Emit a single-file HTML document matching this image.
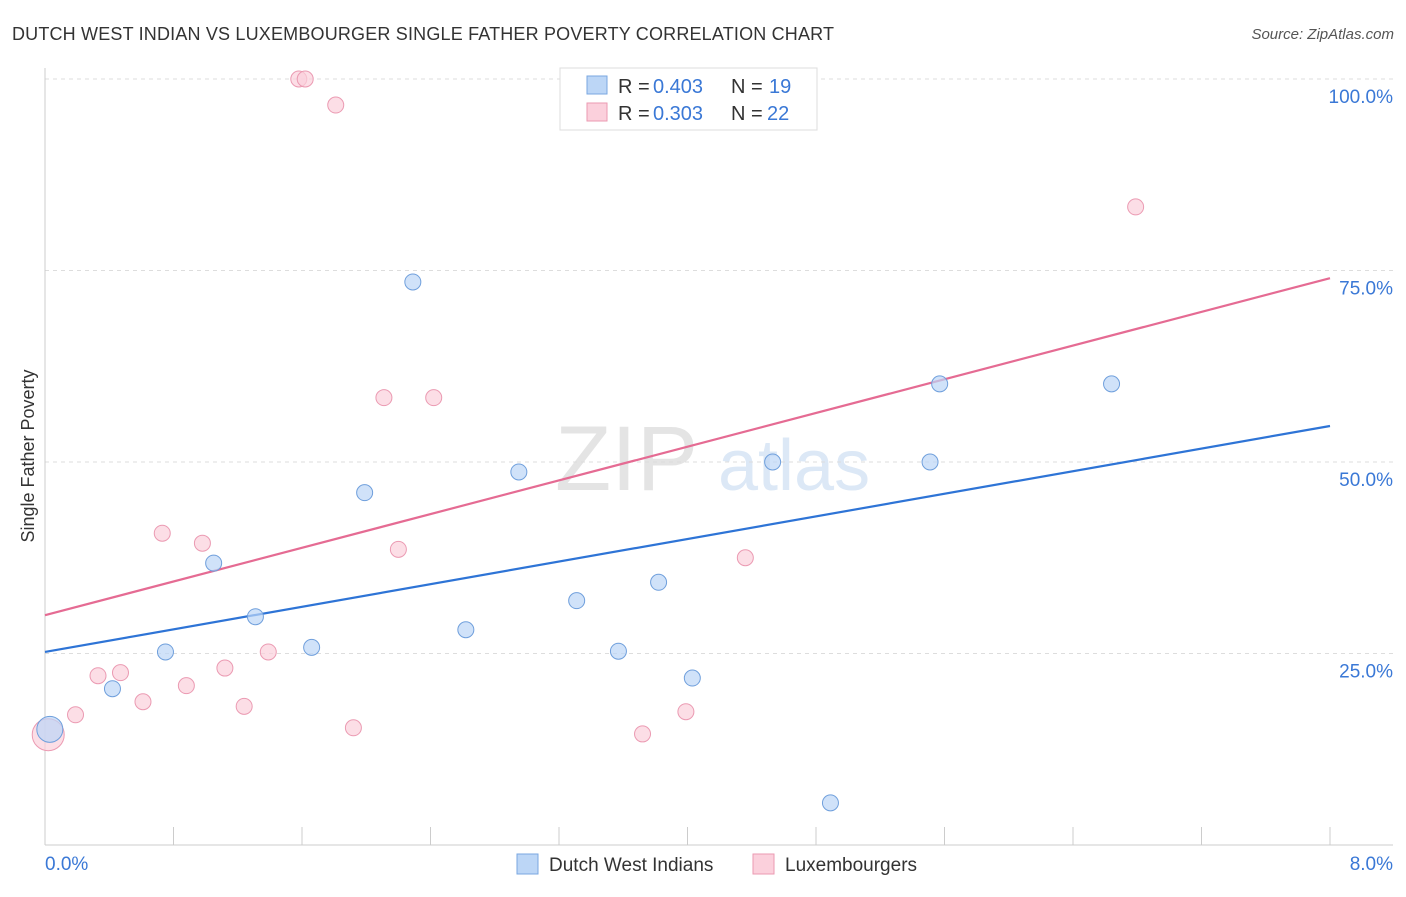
<!DOCTYPE html>
<html><head><meta charset="utf-8"><style>
body{margin:0;background:#fff;font-family:"Liberation Sans",sans-serif;}
svg text{font-family:"Liberation Sans",sans-serif;}
</style></head><body>
<svg id="chart" width="1406" height="892" xmlns="http://www.w3.org/2000/svg">
<text x="12" y="40" font-size="18" fill="#333" textLength="822">DUTCH WEST INDIAN VS LUXEMBOURGER SINGLE FATHER POVERTY CORRELATION CHART</text>
<text x="1394" y="39" font-size="15" fill="#555" font-style="italic" text-anchor="end">Source: ZipAtlas.com</text>
<text x="555" y="490" font-size="92" fill="#e4e4e4" font-family="Liberation Serif">ZIP</text>
<text x="718" y="490" font-size="72" fill="#dce8f6">atlas</text>
<g id="grid"></g>
<g id="axes"></g>
<g id="lines"></g>
<g id="points"></g>
<text transform="translate(34,456) rotate(-90)" font-size="18" fill="#333" text-anchor="middle">Single Father Poverty</text>
<g>
<rect x="560" y="68" width="257" height="62" fill="#fff" stroke="#ddd"/>
<rect x="587" y="76" width="20" height="18" fill="#bcd6f6" stroke="#7aa7e0"/>
<text x="618" y="93" font-size="20" fill="#333">R =</text>
<text x="653" y="93" font-size="20" fill="#3a78d6">0.403</text>
<text x="731" y="93" font-size="20" fill="#333">N =</text>
<text x="769" y="93" font-size="20" fill="#3a78d6">19</text>
<rect x="587" y="103" width="20" height="18" fill="#fbd0dc" stroke="#eb9ab2"/>
<text x="618" y="120" font-size="20" fill="#333">R =</text>
<text x="653" y="120" font-size="20" fill="#3a78d6">0.303</text>
<text x="731" y="120" font-size="20" fill="#333">N =</text>
<text x="767" y="120" font-size="20" fill="#3a78d6">22</text>
</g>
<g>
<rect x="517" y="854" width="21" height="20" fill="#bcd6f6" stroke="#7aa7e0"/>
<text x="549" y="871" font-size="19" fill="#333">Dutch West Indians</text>
</g>
<g>
<rect x="753" y="854" width="21" height="20" fill="#fbd0dc" stroke="#eb9ab2"/>
<text x="785" y="871" font-size="19" fill="#333">Luxembourgers</text>
</g>
</svg>
<script>
const blueX=[0.03,0.42,0.75,1.05,1.31,1.66,1.99,2.29,2.62,2.95,3.31,3.57,3.82,4.03,4.53,4.89,5.51,5.57,6.64];
const blueY=[15.1,20.4,25.2,36.8,29.8,25.8,46.0,73.5,28.1,48.7,31.9,25.3,34.3,21.8,50.0,5.5,50.0,60.2,60.2];
const pinkX=[0.02,0.19,0.33,0.47,0.61,0.73,0.88,0.98,1.12,1.24,1.39,1.58,1.62,1.81,1.92,2.11,2.20,2.42,3.72,3.99,4.36,6.79];
const pinkY=[14.4,17.0,22.1,22.5,18.7,40.7,20.8,39.4,23.1,18.1,25.2,100,100,96.6,15.3,58.4,38.6,58.4,14.5,17.4,37.5,83.3];
const blueTrend=[25.2,54.7];
const pinkTrend=[30.0,74.0];
const yTicks=[25,50,75,100];
const yTickLabels=["25.0%","50.0%","75.0%","100.0%"];
const xTicks=[0,0.8,1.6,2.4,3.2,4.0,4.8,5.6,6.4,7.2,8.0];
const xEndLabels=["0.0%","8.0%"];
const NS="http://www.w3.org/2000/svg";
const X=v=>45+v/8*1285, Y=v=>845-v/100*766;
function mk(p,t,a){const e=document.createElementNS(NS,t);for(const k in a)e.setAttribute(k,a[k]);document.getElementById(p).appendChild(e);return e;}
yTicks.forEach((t,i)=>{
 const l=mk('grid','line',{x1:45,x2:1393,y1:Y(t),y2:Y(t),stroke:'#ddd','stroke-dasharray':'4,4'});
 
 
 const tx=mk('grid','text',{x:1393,y:Y(t)+24,'font-size':19,fill:'#3a78d6','text-anchor':'end'});
 tx.textContent=yTickLabels[i];
 
 
});
const ax=mk('axes','line',{x1:45,x2:1393,y1:845,y2:845,stroke:'#ccc'});


const ay=mk('axes','line',{x1:45,x2:45,y1:68,y2:845,stroke:'#ccc'});


xTicks.forEach(t=>{
 const l=mk('axes','line',{x1:X(t),x2:X(t),y1:827,y2:845,stroke:'#ccc'});
 
 
});
[[0,'start',45],[8,'end',1393]].forEach((d,i)=>{
 const t=mk('axes','text',{x:d[2],y:870,'font-size':19,fill:'#3a78d6','text-anchor':d[1]});
 t.textContent=xEndLabels[i];
 
 
});
function pts(xs,ys,fill,stroke,name){
 xs.forEach((x,i)=>{
  const r=(x<0.05)?(name==='pink-point'?16:13):8;
  const c=mk('points','circle',{cx:X(x),cy:Y(ys[i]),r:r,fill:fill,stroke:stroke,'fill-opacity':0.7});
  
  
 });
}
pts(pinkX,pinkY,'#fbd0dc','#eb9ab2','pink-point');
pts(blueX,blueY,'#bcd6f6','#6f9fdc','blue-point');
const bl=mk('lines','line',{x1:X(0),y1:Y(blueTrend[0]),x2:X(8),y2:Y(blueTrend[1]),stroke:'#2e74d6','stroke-width':2.2});


const pl=mk('lines','line',{x1:X(0),y1:Y(pinkTrend[0]),x2:X(8),y2:Y(pinkTrend[1]),stroke:'#e56b93','stroke-width':2.2});


</script>
</body></html>
